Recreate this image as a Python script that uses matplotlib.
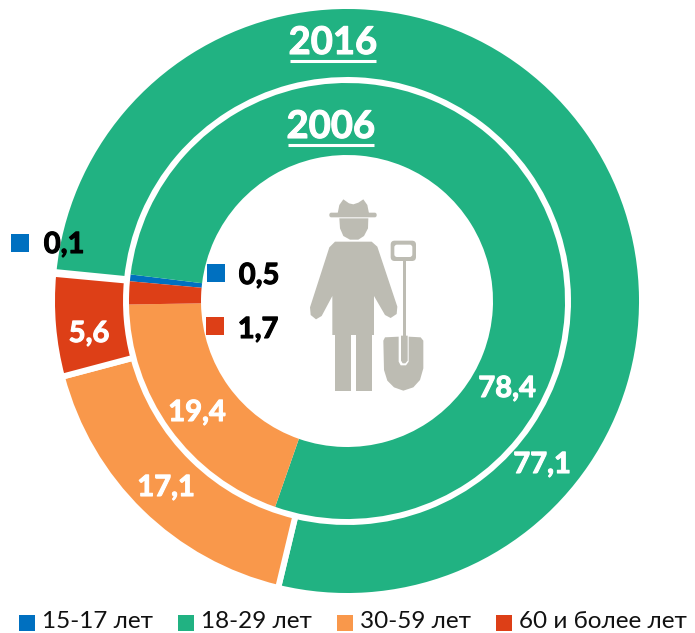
import matplotlib
matplotlib.use('Agg')
import matplotlib.pyplot as plt
import matplotlib.patheffects as pe
from matplotlib.patches import Polygon, FancyBboxPatch, Rectangle

plt.rcParams['font.family'] = ['Lato', 'DejaVu Sans']

# данные
groups = ['15-17 лет', '18-29 лет', '30-59 лет', '60 и более лет']
values_2006 = [0.5, 78.4, 19.4, 1.7]
values_2016 = [0.1, 77.1, 17.1, 5.6]
colors = ['#0070C0', '#21B282', '#F9984B', '#DD3F17']
icon_color = '#BDBCB3'

fig = plt.figure(figsize=(6.95, 6.33), dpi=100)
ax = fig.add_axes([0, 0, 1, 1])

# кольца: внешнее 2016, внутреннее 2006
cx, cy = 347, 301
ax.pie(values_2016, colors=colors, radius=295, center=(cx, cy), startangle=185.3,
       counterclock=True, wedgeprops={'width': 74, 'edgecolor': 'white', 'linewidth': 4.3})
ax.pie(values_2006, colors=colors, radius=218, center=(cx, cy), startangle=185.2,
       counterclock=True, wedgeprops={'width': 72, 'edgecolor': 'none'})

ax.set_xlim(0, 695)
ax.set_ylim(633, 0)
ax.set_aspect('equal')
ax.axis('off')


def label(x, y, s, color='white', size=21):
    t = ax.text(x, y, s, color=color, fontsize=size, fontweight='bold', ha='center', va='center')
    t.set_path_effects([pe.withStroke(linewidth=0.8, foreground=color)])


# заголовки годов
label(333, 43, '2016', size=27.5)
label(331, 127, '2006', size=27.5)
ax.plot([290, 376], [61, 61], color='white', lw=2.2, solid_capstyle='butt')
ax.plot([288, 374], [145, 145], color='white', lw=2.2, solid_capstyle='butt')

# подписи значений
label(507, 389, '78,4')
label(542, 465, '77,1')
label(197, 413, '19,4')
label(166, 488, '17,1')
label(89, 334, '5,6')
label(64, 245, '0,1', color='black')
label(259, 276, '0,5', color='black')
label(258, 330, '1,7', color='black')

# маркеры у маленьких секторов
ax.add_patch(Rectangle((11, 234), 18, 18, color=colors[0], lw=0))
ax.add_patch(Rectangle((207, 264), 18, 18, color=colors[0], lw=0))
ax.add_patch(Rectangle((206, 317), 18, 18, color=colors[3], lw=0))


def z(x, y):
    return (300 + x / 3, 190 + y / 3)


def poly(points, color=icon_color):
    ax.add_patch(Polygon([z(*p) for p in points], closed=True, facecolor=color, edgecolor='none'))


def rbox(x0, y0, x1, y1, r, color=icon_color):
    a = z(x0 + r, y0 + r)
    b = z(x1 - r, y1 - r)
    ax.add_patch(FancyBboxPatch(a, b[0] - a[0], b[1] - a[1],
                                boxstyle='round,pad=%f,rounding_size=%f' % (r / 3, r / 3),
                                facecolor=color, edgecolor='none'))


poly([(113, 70), (118, 45), (130, 28), (147, 40), (160, 43), (175, 38), (190, 28), (202, 45), (207, 70)])
rbox(88, 68, 230, 82, 6)
poly([(118, 85), (205, 85), (204, 115), (192, 138), (175, 149), (150, 149), (130, 138), (120, 115)])
# туловище и руки
poly([(105, 155), (215, 155), (232, 170), (292, 350), (290, 372), (272, 384), (255, 375),
      (222, 318), (222, 435), (97, 435), (97, 318), (65, 378), (48, 388), (32, 375), (30, 352),
      (88, 172)])
poly([(105, 435), (153, 435), (153, 603), (105, 603)])
poly([(167, 435), (215, 435), (215, 603), (167, 603)])
# лопата
poly([(308, 205), (318, 205), (318, 440), (308, 440)])
rbox(272, 152, 348, 213, 12)
rbox(283, 164, 337, 201, 8, color='white')
poly([(250, 452), (255, 442), (296, 440), (296, 515), (302, 526), (318, 526), (326, 515), (326, 440),
      (362, 442), (370, 452), (370, 535), (360, 570), (340, 592), (310, 602), (282, 592), (262, 572),
      (252, 540)])
poly([(303, 437), (323, 437), (323, 512), (316, 520), (308, 520), (303, 512)])

# легенда
legend_x = [19, 178, 337, 496]
for x, name, col in zip(legend_x, groups, colors):
    ax.add_patch(Rectangle((x, 615), 16, 16, color=col, lw=0))
    ax.text(x + 23, 622, name, fontsize=17.5, color='#111111', ha='left', va='center')

fig.savefig('out.png', dpi=100)
